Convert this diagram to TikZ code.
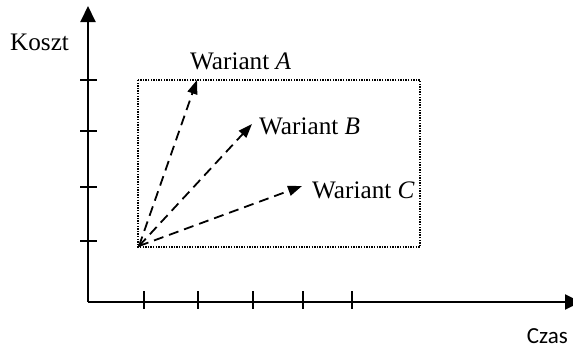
\documentclass[tikz,border=0pt]{standalone}
\usepackage{fontspec}
\setmainfont{Liberation Serif}
\newfontfamily\czasfont{Carlito}
\usetikzlibrary{arrows.meta}
\begin{document}
\begin{tikzpicture}[x=1pt,y=-1pt,
  axis/.style={line width=2pt,-{Triangle[length=16pt,width=15pt]}},
  tick/.style={line width=1.8pt},
  vec/.style={line width=1.8pt,dash pattern=on 10pt off 6pt,-{Triangle[length=14pt,width=10pt]}},
  lbl/.style={font=\fontsize{25.2}{29}\selectfont,inner sep=0pt,anchor=west}]
\useasboundingbox (0,0) rectangle (573,349);
\coordinate (O) at (88,302);
\coordinate (Ytop) at (88,6);
\coordinate (Xend) at (581,302);
\draw[axis] (O) -- (Ytop);
\draw[axis] (O) -- (Xend);
\foreach \y in {80,131,187,241} \draw[tick] (80,\y) -- (97,\y);
\foreach \x in {144,198,253,303,352} \draw[tick] (\x,291) -- (\x,309);
\draw[line width=1.4pt,dash pattern=on 1.4pt off 1.2pt] (138,80) rectangle (420,247);
\coordinate (S) at (139,246);
\coordinate (A) at (197,80);
\coordinate (B) at (252,124);
\coordinate (C) at (302,186);
\draw[vec] (S) -- (A);
\draw[vec] (S) -- (B);
\draw[vec] (S) -- (C);
\node[lbl] (kl) at (10,42) {Koszt};
\node[lbl] (al) at (190,61) {Wariant \textit{A}};
\node[lbl] (bl) at (259,126) {Wariant \textit{B}};
\node[lbl] (cl) at (312,190) {Wariant \textit{C}};
\node[font=\czasfont\fontsize{23}{27}\selectfont,inner sep=0pt,anchor=base east] (cz) at (568,343) {Czas};
\end{tikzpicture}
\end{document}
